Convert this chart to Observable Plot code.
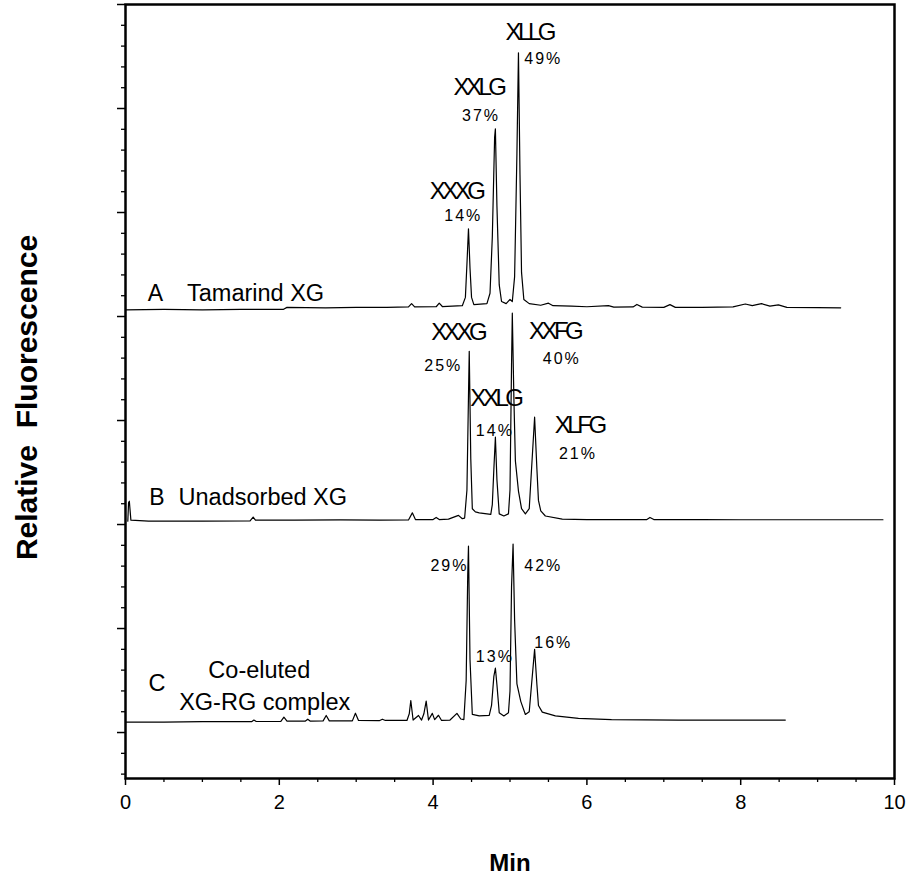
<!DOCTYPE html>
<html>
<head>
<meta charset="utf-8">
<script src="https://cdn.jsdelivr.net/npm/d3@7"></script>
<script src="https://cdn.jsdelivr.net/npm/@observablehq/plot@0.6"></script>
<style>
  html, body { margin: 0; padding: 0; background: #fff; }
</style>
</head>
<body>
<div id="chart"></div>
<script>
// ---- Data: [time (min), signal] ----
const traceA = [[0,0],[0.5,0.02],[1.0,0],[1.5,0.02],[2.05,0.02],[2.1,0.12],[2.6,0.1],[3.0,0.12],[3.4,0.12],[3.68,0.14],[3.72,0.3],[3.76,0.14],[4.04,0.15],[4.08,0.32],[4.12,0.16],[4.38,0.2],[4.42,0.6],[4.44,2.2],[4.46,3.9],[4.48,2.0],[4.50,0.6],[4.53,0.25],[4.70,0.3],[4.74,0.8],[4.77,3.5],[4.80,8.3],[4.81,8.7],[4.83,5.0],[4.86,1.2],[4.89,0.4],[4.95,0.3],[5.00,0.5],[5.03,0.4],[5.06,1.6],[5.09,7.5],[5.11,12.36],[5.13,6.5],[5.15,1.8],[5.18,0.5],[5.25,0.3],[5.40,0.22],[5.50,0.32],[5.56,0.2],[5.8,0.18],[6.0,0.15],[6.28,0.2],[6.35,0.13],[6.6,0.14],[6.65,0.26],[6.72,0.13],[7.0,0.12],[7.08,0.25],[7.15,0.12],[7.5,0.12],[7.9,0.14],[8.06,0.28],[8.15,0.2],[8.27,0.3],[8.38,0.18],[8.49,0.24],[8.6,0.12],[9.0,0.11],[9.3,0.1]];
const traceB = [[0.03,0],[0.04,0.9],[0.05,0.96],[0.07,0.05],[0.3,0],[1.0,0],[1.62,0.02],[1.66,0.2],[1.69,0.05],[2.2,0.05],[2.8,0.06],[3.3,0.05],[3.68,0.06],[3.73,0.4],[3.77,0.08],[4.0,0.08],[4.04,0.18],[4.08,0.08],[4.2,0.1],[4.33,0.28],[4.38,0.12],[4.41,0.15],[4.44,1.5],[4.46,6.0],[4.47,8.17],[4.49,3.0],[4.51,0.6],[4.55,0.45],[4.60,0.4],[4.75,0.33],[4.77,0.8],[4.79,2.5],[4.81,4.04],[4.83,2.0],[4.86,0.35],[4.92,0.25],[4.98,0.35],[5.00,1.5],[5.02,7.5],[5.03,10.0],[5.05,6.0],[5.07,2.9],[5.11,1.45],[5.15,0.6],[5.20,0.35],[5.25,0.6],[5.28,2.5],[5.32,5.0],[5.35,2.5],[5.37,1.0],[5.40,0.5],[5.46,0.25],[5.68,0.1],[6.0,0.08],[6.5,0.08],[6.78,0.08],[6.82,0.18],[6.87,0.08],[7.5,0.08],[8.0,0.07],[8.75,0.07],[9.3,0.07],[9.85,0.07]];
const traceC = [[0,0],[0.5,0],[1.0,0.02],[1.64,0.02],[1.67,0.1],[1.7,0.03],[2.02,0.04],[2.06,0.24],[2.1,0.05],[2.34,0.05],[2.37,0.14],[2.4,0.05],[2.57,0.06],[2.61,0.32],[2.65,0.06],[2.95,0.06],[2.99,0.43],[3.03,0.08],[3.3,0.07],[3.34,0.14],[3.38,0.08],[3.66,0.08],[3.69,0.4],[3.71,1.04],[3.74,0.1],[3.81,0.32],[3.85,0.1],[3.88,0.4],[3.91,1.01],[3.94,0.1],[3.99,0.42],[4.02,0.12],[4.07,0.33],[4.11,0.08],[4.22,0.1],[4.31,0.42],[4.36,0.15],[4.40,0.12],[4.43,2.0],[4.45,7.0],[4.46,8.46],[4.48,3.0],[4.51,0.37],[4.60,0.3],[4.73,0.32],[4.76,0.8],[4.79,2.2],[4.81,2.6],[4.83,1.8],[4.86,0.45],[4.92,0.3],[4.98,0.45],[5.00,1.5],[5.02,6.5],[5.04,8.56],[5.06,4.9],[5.09,1.84],[5.14,1.0],[5.20,0.37],[5.25,0.5],[5.28,1.8],[5.32,3.5],[5.35,1.8],[5.37,0.8],[5.42,0.48],[5.59,0.3],[5.89,0.18],[6.32,0.12],[7.19,0.1],[8.0,0.1],[8.58,0.1]];

const traceNames = ["A", "B", "C"];
const traceBaselines = [22.32, 12.16, 2.50];   // vertical offsets of stacked traces

// Sample labels
const sampleLetters = [
  {text: "A", t: 0.29, y: 23.11},
  {text: "B", t: 0.31, y: 13.31}
];
const sampleNames = [
  {text: "Tamarind XG", t: 0.80, y: 23.11},
  {text: "Unadsorbed XG", t: 0.69, y: 13.31}
];
const sampleCentered = [
  {text: "C", t: 0.41, y: 4.37},
  {text: "Co-eluted", t: 1.74, y: 4.98},
  {text: "XG-RG complex", t: 1.81, y: 3.46}
];
// Oligosaccharide names
const oligoNames = [
  {text: "XLLG", t: 5.25, y: 35.65},
  {text: "XXLG", t: 4.59, y: 33.01},
  {text: "XXXG", t: 4.30, y: 28.02},
  {text: "XXXG", t: 4.32, y: 21.25},
  {text: "XXFG", t: 5.58, y: 21.29},
  {text: "XXLG", t: 4.81, y: 18.06},
  {text: "XLFG", t: 5.90, y: 16.76}
];
// Percentages
const percents = [
  {text: "49%", t: 5.42, y: 34.40},
  {text: "37%", t: 4.61, y: 31.66},
  {text: "14%", t: 4.38, y: 26.86},
  {text: "25%", t: 4.12, y: 19.64},
  {text: "40%", t: 5.66, y: 19.98},
  {text: "14%", t: 4.79, y: 16.49},
  {text: "21%", t: 5.87, y: 15.41},
  {text: "29%", t: 4.20, y: 10.03},
  {text: "42%", t: 5.42, y: 10.03},
  {text: "13%", t: 4.79, y: 5.65},
  {text: "16%", t: 5.55, y: 6.29}
];

const xMajorTicks = [0, 2, 4, 6, 8, 10];
const xMinorTicks = [0.5, 1, 1.5, 2.5, 3, 3.5, 4.5, 5, 5.5, 6.5, 7, 7.5, 8.5, 9, 9.5];
const yMajorTicks = [37, 32, 27, 22, 17, 12, 7, 2];
const yMinorTicks = d3.range(0, 38).filter(v => !yMajorTicks.includes(v));

// ---- Build table ----
const traces = [traceA, traceB, traceC];
const rows = traces.flatMap((tr, i) =>
  tr.map(([t, v]) => ({series: traceNames[i], t, y: traceBaselines[i] + v})));

const font = "'Liberation Sans', Arial, Helvetica, sans-serif";

const chart = Plot.plot({
  width: 910,
  height: 890,
  marginLeft: 125,
  marginRight: 16,
  marginTop: 4,
  marginBottom: 112,
  style: {fontFamily: font, background: "#fff", color: "#000"},
  x: {domain: [0, 10]},
  y: {domain: [-0.21, 37]},
  marks: [
    Plot.line(rows, {x: "t", y: "y", z: "series", stroke: "#000", strokeWidth: 1.2, curve: "linear"}),
    Plot.frame({stroke: "#000", strokeWidth: 2.5}),
    Plot.axisY(yMajorTicks, {tickSize: 8, strokeWidth: 1.5, tickFormat: () => "", label: null}),
    Plot.axisY(yMinorTicks, {tickSize: 4, strokeWidth: 1.3, tickFormat: () => "", label: null}),
    Plot.axisX(xMajorTicks, {tickSize: 7, strokeWidth: 1.5, tickPadding: 9, fontSize: 20, label: null, tickFormat: d => String(d)}),
    Plot.axisX(xMinorTicks, {tickSize: 4, strokeWidth: 1.3, tickFormat: () => "", label: null}),
    Plot.text(["Min"], {frameAnchor: "bottom", dy: 92, fontSize: 24, fontWeight: "bold", fill: "#000"}),
    Plot.text(["Relative  Fluorescence"], {frameAnchor: "left", textAnchor: "middle", dx: -98, dy: 6, rotate: -90, fontSize: 30, fontWeight: "bold", fill: "#000"}),
    Plot.text(sampleLetters, {x: "t", y: "y", text: "text", textAnchor: "start", fontSize: 23, fill: "#000"}),
    Plot.text(sampleNames, {x: "t", y: "y", text: "text", textAnchor: "start", fontSize: 23.5, fill: "#000"}),
    Plot.text(sampleCentered, {x: "t", y: "y", text: "text", fontSize: 23.5, fill: "#000"}),
    Plot.text(oligoNames, {x: "t", y: "y", text: "text", fontSize: 24, fill: "#000"}),
    Plot.text(percents, {x: "t", y: "y", text: "text", fontSize: 16, dx: 1, fill: "#000"})
  ]
});

// Letter spacing tweaks to mimic the annotation style
d3.select(chart).selectAll("text")
  .filter(function() { return /%$/.test(this.textContent); })
  .style("letter-spacing", "2px");
d3.select(chart).selectAll("text")
  .filter(function() { return /^X[XL][XLF]G$/.test(this.textContent); })
  .style("letter-spacing", "-3.5px");

document.getElementById("chart").appendChild(chart);
</script>
</body>
</html>
